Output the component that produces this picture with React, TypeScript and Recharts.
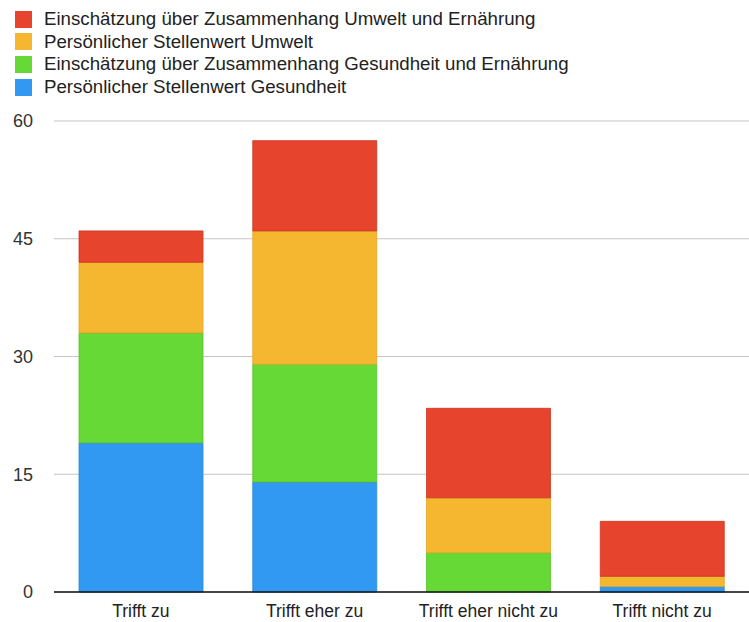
import React from "react";
import { BarChart, Bar, XAxis, YAxis, CartesianGrid } from "recharts";

// Answer categories along the x axis
const categories = ["Trifft zu", "Trifft eher zu", "Trifft eher nicht zu", "Trifft nicht zu"];

// Series values, stacked bottom to top
const stellenwertGesundheit = [19, 14, 0, 0.7];
const zusammenhangGesundheit = [14, 15, 5, 0];
const stellenwertUmwelt = [9, 17, 7, 1.3];
const zusammenhangUmwelt = [4, 11.5, 11.4, 7];

const yTicks = [0, 15, 30, 45, 60];

const series = [
  { key: "stellenwertGesundheit", name: "Persönlicher Stellenwert Gesundheit", color: "#3199F1", edge: "#2a88d8" },
  { key: "zusammenhangGesundheit", name: "Einschätzung über Zusammenhang Gesundheit und Ernährung", color: "#66D936", edge: "#58c22c" },
  { key: "stellenwertUmwelt", name: "Persönlicher Stellenwert Umwelt", color: "#F5B630", edge: "#e2a423" },
  { key: "zusammenhangUmwelt", name: "Einschätzung über Zusammenhang Umwelt und Ernährung", color: "#E6442D", edge: "#cc3522" },
];

const data = categories.map((name, i) => ({
  name,
  stellenwertGesundheit: stellenwertGesundheit[i],
  zusammenhangGesundheit: zusammenhangGesundheit[i],
  stellenwertUmwelt: stellenwertUmwelt[i],
  zusammenhangUmwelt: zusammenhangUmwelt[i],
}));

const FONT = '"Liberation Sans", Arial, Helvetica, sans-serif';

function LegendBox() {
  const items = [...series].reverse();
  return (
    <div style={{ position: "absolute", left: 15, top: 8, fontFamily: FONT, fontSize: 18.7, color: "#222" }}>
      {items.map((s) => (
        <div key={s.key} style={{ display: "flex", alignItems: "center", height: 22.6 }}>
          <span style={{ display: "inline-block", width: 17, height: 17, background: s.color, marginRight: 12 }} />
          <span style={{ whiteSpace: "nowrap", lineHeight: "22px" }}>{s.name}</span>
        </div>
      ))}
    </div>
  );
}

export default function App() {
  return (
    <div style={{ position: "absolute", left: 0, top: 0, width: 749, height: 622, background: "#fff" }}>
      <LegendBox />
      <BarChart
        width={749}
        height={622}
        data={data}
        margin={{ top: 121, right: 0, bottom: 0, left: 0 }}
        barSize={124}
      >
        <CartesianGrid vertical={false} stroke="#c4c4c4" strokeWidth={1.2} />
        <XAxis
          dataKey="name"
          height={30}
          tickLine={false}
          tickSize={0}
          tickMargin={13}
          axisLine={{ stroke: "#111", strokeWidth: 1.5 }}
          tick={{ fill: "#222", fontSize: 17.5, fontFamily: FONT }}
          interval={0}
        />
        <YAxis
          width={54}
          domain={[0, 60]}
          ticks={yTicks}
          axisLine={false}
          tickLine={false}
          tickSize={0}
          tickMargin={21}
          tick={{ fill: "#333", fontSize: 18, fontFamily: FONT }}
        />
        {series.map((s) => (
          <Bar
            key={s.key}
            dataKey={s.key}
            name={s.name}
            stackId="a"
            fill={s.color}
            stroke={s.edge}
            strokeWidth={0.8}
            isAnimationActive={false}
          />
        ))}
      </BarChart>
    </div>
  );
}
